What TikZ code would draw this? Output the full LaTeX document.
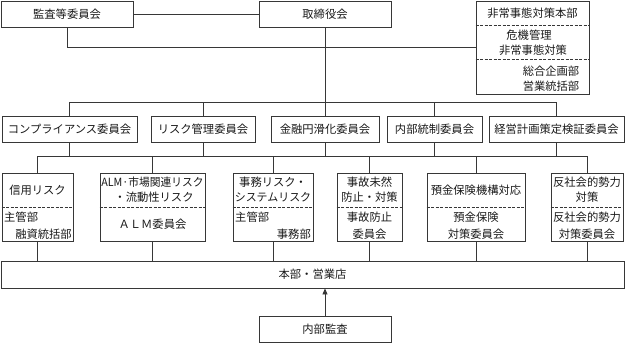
\documentclass[tikz,border=0pt]{standalone}
\usepackage{fontspec}
\usepackage{graphicx}
\setmainfont{Noto Sans CJK JP}
\usetikzlibrary{arrows.meta}
\definecolor{ln}{RGB}{55,55,55}
\definecolor{tx}{RGB}{25,25,25}
\newcommand\jfs{\fontsize{11.3pt}{14pt}\selectfont}
\begin{document}
\begin{tikzpicture}[x=1pt,y=-1pt,
 box/.style={draw=ln,line width=0.9pt,rectangle,inner sep=0pt,font=\jfs,text=tx},
 lbl/.style={inner sep=0pt,font=\jfs,text=tx},
 conn/.style={draw=ln,line width=0.9pt},
 sep/.style={draw=ln,line width=0.9pt,dash pattern=on 3pt off 1.5pt}]
\useasboundingbox (0,0) rectangle (625,343);
% top row
\node[box,minimum width=132pt,minimum height=26pt] (kansa) at (67,14) {監査等委員会};
\node[box,minimum width=132pt,minimum height=26pt] (tori) at (325,14) {取締役会};
\node[box,minimum width=113pt,minimum height=93pt] (hijo) at (532.5,47.5) {};
\draw[sep] ([yshift=-24.5pt]hijo.north west) -- ([yshift=-24.5pt]hijo.north east);
\draw[sep] ([yshift=-59pt]hijo.north west) -- ([yshift=-59pt]hijo.north east);
\node[lbl] (hijoA) at (532.5,13.5) {非常事態対策本部};
\node[lbl] (hijoB) at (529,35) {危機管理};
\node[lbl] (hijoC) at (533,50.5) {非常事態対策};
\node[lbl] (hijoD) at (551,71) {総合企画部};
\node[lbl] (hijoE) at (551,86) {営業統括部};
% committees
\node[box,minimum width=135pt,minimum height=26pt] (compl) at (69.5,129) {コンプライアンス委員会};
\node[box,minimum width=104pt,minimum height=26pt] (riskk) at (203,129) {リスク管理委員会};
\node[box,minimum width=108pt,minimum height=26pt] (kinyu) at (325,129) {金融円滑化委員会};
\node[box,minimum width=95pt,minimum height=26pt] (naibu) at (434.5,129) {内部統制委員会};
\node[box,minimum width=135pt,minimum height=26pt] (keiei) at (556.5,129) {経営計画策定検証委員会};
% risk boxes
\node[box,minimum width=71pt,minimum height=68pt] (shinyo) at (37.5,207) {};
\node[box,minimum width=105pt,minimum height=68pt] (alm) at (152.5,207) {};
\node[box,minimum width=80pt,minimum height=68pt] (jimu) at (273,207) {};
\node[box,minimum width=65pt,minimum height=68pt] (jiko) at (369.5,207) {};
\node[box,minimum width=98pt,minimum height=68pt] (yokin) at (476,207) {};
\node[box,minimum width=72pt,minimum height=68pt] (hansha) at (587,207) {};
\foreach \n in {shinyo,alm,jimu,jiko,yokin,hansha}
  \draw[sep] (\n.west) -- (\n.east);
% risk texts
\node[lbl] (shinyoA) at (37.5,190) {信用リスク};
\node[lbl,anchor=west] (shinyoB) at (4,217) {主管部};
\node[lbl,anchor=east] (shinyoC) at (72,234) {融資統括部};
\node[lbl] (almA) at (152.5,182) {\scalebox{0.95}[1]{ALM·市場関連リスク}};
\node[lbl] (almB) at (154,197) {・流動性リスク};
\node[lbl] (almC) at (152.5,224) {ＡＬＭ委員会};
\node[lbl] (jimuA) at (273,182) {事務リスク・};
\node[lbl] (jimuB) at (273,197) {\scalebox{0.97}[1]{システムリスク}};
\node[lbl,anchor=west] (jimuC) at (235,217) {主管部};
\node[lbl,anchor=east] (jimuD) at (311,234) {事務部};
\node[lbl] (jikoA) at (369.5,182) {事故未然};
\node[lbl] (jikoB) at (369.5,197) {防止・対策};
\node[lbl] (jikoC) at (369.5,217) {事故防止};
\node[lbl] (jikoD) at (369.5,234) {委員会};
\node[lbl] (yokinA) at (476,190) {預金保険機構対応};
\node[lbl] (yokinB) at (476,217) {預金保険};
\node[lbl] (yokinC) at (476,234) {対策委員会};
\node[lbl] (hanshaA) at (587,182) {反社会的勢力};
\node[lbl] (hanshaB) at (587,197) {対策};
\node[lbl] (hanshaC) at (587,217) {反社会的勢力};
\node[lbl] (hanshaD) at (587,234) {対策委員会};
% bottom
\node[box,minimum width=623pt,minimum height=27pt] (honbu) at (312.5,274.5) {本部・営業店};
\node[box,minimum width=132pt,minimum height=26pt] (audit) at (325,329) {内部監査};
% connectors
\coordinate (b1) at (325,102);
\coordinate (b2) at (325,156);
\draw[conn] (kansa) -- (tori);
\draw[conn] (kansa.south) |- (hijo.west);
\draw[conn] (tori.south) -- (tori.south |- b1);
\draw[conn] (compl.north) -- (compl.north |- b1) -- (keiei.north |- b1) -- (keiei.north);
\foreach \n in {riskk,kinyu,naibu}
  \draw[conn] (\n.north) -- (\n.north |- b1);
\foreach \n in {compl,riskk,kinyu,naibu,keiei}
  \draw[conn] (\n.south) -- (\n.south |- b2);
\draw[conn] (shinyo.north |- b2) -- (hansha.north |- b2);
\foreach \n in {shinyo,alm,jimu,jiko,yokin,hansha}{
  \draw[conn] (\n.north |- b2) -- (\n.north);
  \draw[conn] (\n.south) -- (\n.south |- honbu.north);
}
\draw[conn,-{Triangle[length=6pt,width=5pt]}] (audit.north) -- (audit.north |- honbu.south);
\end{tikzpicture}
\end{document}
